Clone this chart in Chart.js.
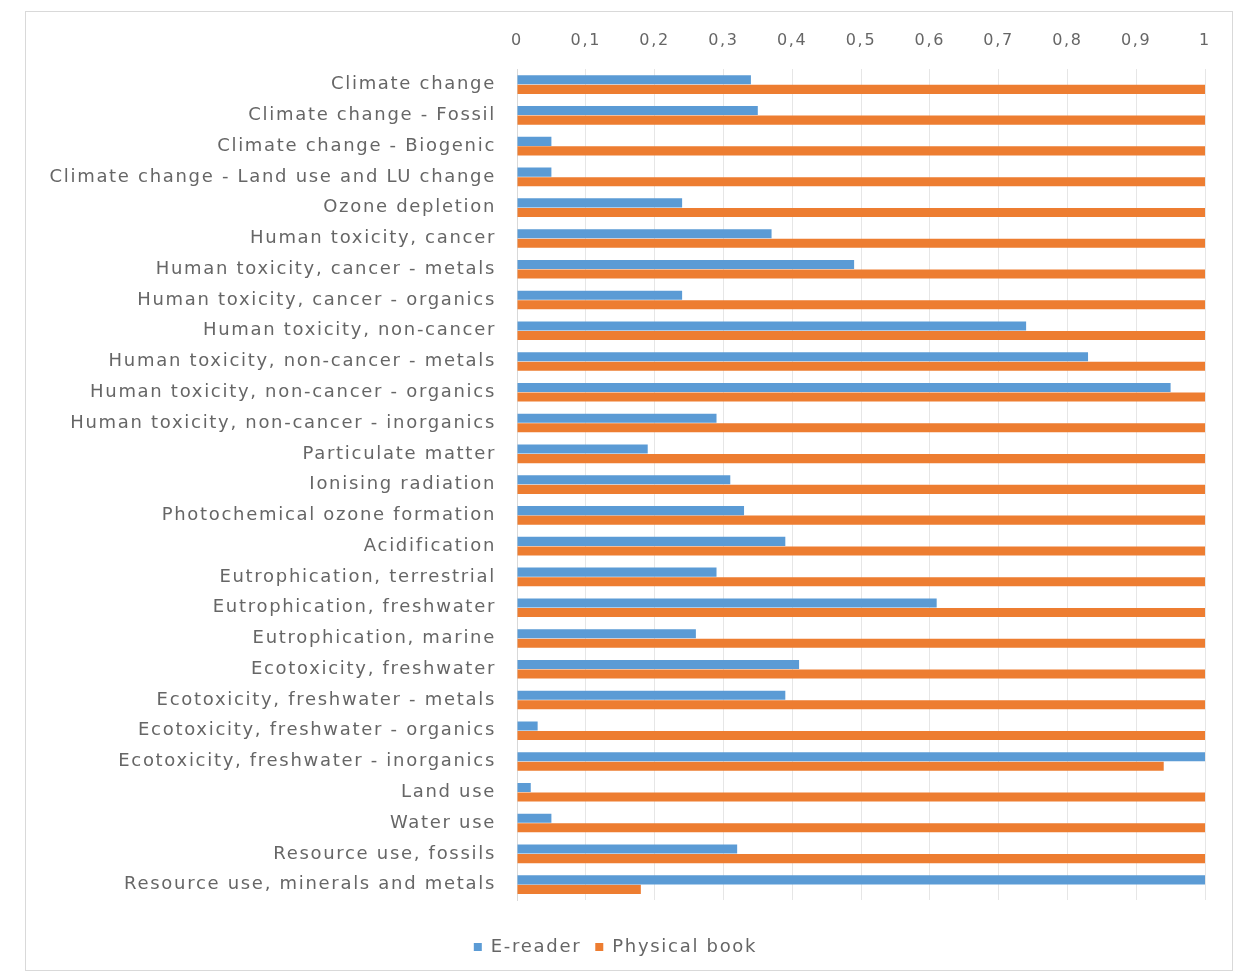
<!DOCTYPE html>
<html>
<head>
<meta charset="utf-8">
<script src="https://cdn.jsdelivr.net/npm/chart.js@4.4.0/dist/chart.umd.min.js"></script>
<style>
  html, body { margin: 0; padding: 0; background: #ffffff; }
  #frame { position: absolute; left: 25px; top: 11px; width: 1208px; height: 960px; border: 1px solid #d9d9d9; box-sizing: border-box; background: #fff; }
  #frame canvas { display: block; }
</style>
</head>
<body>
<div id="frame"><canvas id="c"></canvas></div>
<script>
const categories = [
  "Climate change",
  "Climate change - Fossil",
  "Climate change - Biogenic",
  "Climate change - Land use and LU change",
  "Ozone depletion",
  "Human toxicity, cancer",
  "Human toxicity, cancer - metals",
  "Human toxicity, cancer - organics",
  "Human toxicity, non-cancer",
  "Human toxicity, non-cancer - metals",
  "Human toxicity, non-cancer - organics",
  "Human toxicity, non-cancer - inorganics",
  "Particulate matter",
  "Ionising radiation",
  "Photochemical ozone formation",
  "Acidification",
  "Eutrophication, terrestrial",
  "Eutrophication, freshwater",
  "Eutrophication, marine",
  "Ecotoxicity, freshwater",
  "Ecotoxicity, freshwater - metals",
  "Ecotoxicity, freshwater - organics",
  "Ecotoxicity, freshwater - inorganics",
  "Land use",
  "Water use",
  "Resource use, fossils",
  "Resource use, minerals and metals"
];
const eReader = [0.34, 0.35, 0.05, 0.05, 0.24, 0.37, 0.49, 0.24, 0.74, 0.83, 0.95, 0.29, 0.19, 0.31, 0.33, 0.39, 0.29, 0.61, 0.26, 0.41, 0.39, 0.03, 1.00, 0.02, 0.05, 0.32, 1.00];
const physicalBook = [1, 1, 1, 1, 1, 1, 1, 1, 1, 1, 1, 1, 1, 1, 1, 1, 1, 1, 1, 1, 1, 1, 0.94, 1, 1, 1, 0.18];
const xTicks = [0, 0.1, 0.2, 0.3, 0.4, 0.5, 0.6, 0.7, 0.8, 0.9, 1];

const FONT = "'DejaVu Sans', 'Open Sans', sans-serif";
const TXT = '#666666';
const SPACING = '1.7px';

const spacingPlugin = {
  id: 'spacing',
  beforeUpdate(chart) { chart.ctx.letterSpacing = SPACING; },
  beforeDraw(chart) { chart.ctx.letterSpacing = SPACING; }
};

new Chart(document.getElementById('c'), {
  type: 'bar',
  plugins: [spacingPlugin],
  data: {
    labels: categories,
    datasets: [
      { label: 'E-reader', data: eReader, backgroundColor: '#5b9bd5', borderWidth: 0 },
      { label: 'Physical book', data: physicalBook, backgroundColor: '#ed7d31', borderWidth: 0 }
    ]
  },
  options: {
    indexAxis: 'y',
    responsive: true,
    maintainAspectRatio: false,
    animation: false,
    layout: { padding: { left: 0, right: 27, top: 0, bottom: 4 } },
    datasets: { bar: { categoryPercentage: 0.62, barPercentage: 0.95 } },
    scales: {
      x: {
        position: 'top',
        min: 0, max: 1,
        afterBuildTicks: (axis) => { axis.ticks = xTicks.map(v => ({ value: v })); },
        ticks: {
          color: TXT,
          font: { family: FONT, size: 16 },
          padding: 19,
          callback: (v) => String(Math.round(v * 10) / 10).replace('.', ',')
        },
        grid: { color: '#e6e6e6', lineWidth: 1, drawTicks: false },
        border: { display: false }
      },
      spacer: {
        axis: 'x',
        position: 'bottom',
        display: true,
        min: 0, max: 1,
        afterFit: (axis) => { axis.height = 24; },
        ticks: { display: false },
        grid: { display: false, drawTicks: false },
        border: { display: false }
      },
      y: {
        afterFit: (axis) => { axis.width = 491; },
        ticks: {
          color: TXT,
          font: { family: FONT, size: 18 },
          padding: 21
        },
        grid: { display: false, drawTicks: false },
        border: { display: true, color: '#d9d9d9' }
      }
    },
    plugins: {
      legend: {
        position: 'bottom',
        labels: {
          color: TXT,
          font: { family: FONT, size: 18 },
          boxWidth: 8, boxHeight: 8,
          padding: 14
        }
      },
      tooltip: { enabled: false }
    }
  }
});
</script>
</body>
</html>
